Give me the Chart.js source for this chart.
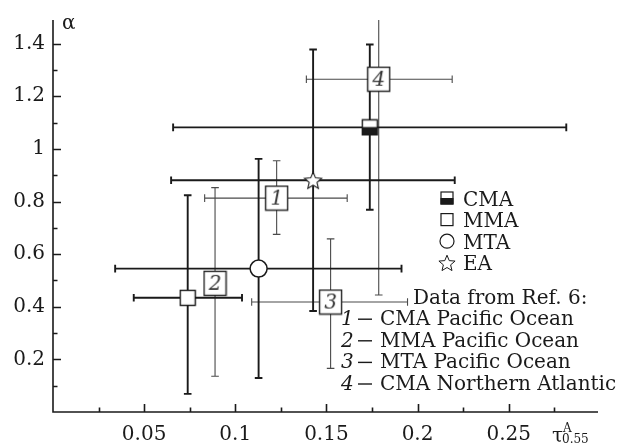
<!DOCTYPE html>
<html>
<head>
<meta charset="utf-8">
<script src="https://cdn.jsdelivr.net/npm/chart.js@4.4.1/dist/chart.umd.min.js"></script>
<style>
  html, body { margin: 0; padding: 0; background: #fff; }
  #wrap { width: 631px; height: 446px; position: relative; }
</style>
</head>
<body>
<div id="wrap"><canvas id="chart"></canvas></div>
<script>
// ---- values
const seriesNames = ["CMA", "MMA", "MTA", "EA"];
const seriesX   = [0.1738, 0.0739, 0.1128, 0.1427];
const seriesY   = [1.082, 0.434, 0.545, 0.881];
const seriesXLo = [0.0659, 0.0443, 0.0341, 0.0648];
const seriesXHi = [0.2816, 0.1037, 0.1912, 0.2204];
const seriesYLo = [0.769, 0.069, 0.129, 0.384];
const seriesYHi = [1.397, 0.824, 0.962, 1.378];

// Ref. 6 points (thin grey bars, numbered boxes)
const refLabels = ["1", "2", "3", "4"];
const refNotes  = ["CMA Pacific Ocean", "MMA Pacific Ocean", "MTA Pacific Ocean", "CMA Northern Atlantic"];
const refX   = [0.1227, 0.0889, 0.1523, 0.1787];
const refY   = [0.813, 0.489, 0.418, 1.265];
const refXLo = [0.0832, null, 0.109, 0.139];
const refXHi = [0.1614, null, 0.1945, 0.219];
const refYLo = [0.675, 0.136, 0.166, 0.445];
const refYHi = [0.955, 0.853, 0.658, 1.6];

const xTicks = [0.05, 0.1, 0.15, 0.2, 0.25];
const yTicks = [0.2, 0.4, 0.6, 0.8, 1, 1.2, 1.4];

const SERIF = "'DejaVu Serif', 'Liberation Serif', serif";
const INK = "#1a1a1a";
const FS = 20;
Chart.defaults.font.family = SERIF;
Chart.defaults.color = INK;

// ---- marker glyphs (small canvases used as point styles)
function glyph(w, h, draw) {
  const c = document.createElement("canvas");
  c.width = w; c.height = h;
  draw(c.getContext("2d"), w, h);
  return c;
}
function starPath(ctx, cx, cy, ro, ri) {
  ctx.beginPath();
  for (let i = 0; i < 10; i++) {
    const r = i % 2 ? ri : ro, a = -Math.PI / 2 + i * Math.PI / 5;
    ctx.lineTo(cx + r * Math.cos(a), cy + r * Math.sin(a));
  }
  ctx.closePath();
}
const halfSquare = s => glyph(s + 2, s + 2, (ctx) => {
  ctx.fillStyle = "#fff"; ctx.fillRect(1, 1, s, s);
  ctx.fillStyle = INK; ctx.fillRect(1, 1 + s * 0.48, s, s * 0.52);
  ctx.strokeStyle = INK; ctx.lineWidth = 1.4; ctx.strokeRect(1.5, 1.5, s - 1, s - 1);
});
const openSquare = s => glyph(s + 2, s + 2, (ctx) => {
  ctx.fillStyle = "#fff"; ctx.fillRect(1, 1, s, s);
  ctx.strokeStyle = INK; ctx.lineWidth = 1.4; ctx.strokeRect(1.5, 1.5, s - 1, s - 1);
});
const starGlyph = s => glyph(s + 2, s + 2, (ctx, w, h) => {
  starPath(ctx, w / 2, h / 2 + 0.9, s / 2, s / 4.4);
  ctx.fillStyle = "#fff"; ctx.fill();
  ctx.strokeStyle = INK; ctx.lineWidth = 1.1; ctx.stroke();
});
const numBox = t => glyph(25, 27, (ctx, w, h) => {
  ctx.fillStyle = "#fff"; ctx.fillRect(1, 1, w - 2, h - 2);
  ctx.strokeStyle = "#222"; ctx.lineWidth = 1.4; ctx.strokeRect(1.5, 1.5, w - 3, h - 3);
  ctx.fillStyle = "#333"; ctx.font = "italic 20px " + SERIF;
  ctx.textAlign = "center"; ctx.textBaseline = "middle";
  ctx.fillText(t, w / 2, h / 2 + 1);
});

const seriesStyles = [halfSquare(16), openSquare(16), "circle", starGlyph(18)];

// ---- error bars + axes + annotations
const errorBars = {
  id: "errorBars",
  beforeDatasetsDraw(chart) {
    const { ctx, chartArea: a, scales: { x, y } } = chart;
    const bar = (xs, ys, xl, xh, yl, yh, lw, col, cap) => {
      ctx.strokeStyle = col; ctx.lineWidth = lw;
      xs.forEach((_, i) => {
        const px = x.getPixelForValue(xs[i]), py = y.getPixelForValue(ys[i]);
        ctx.beginPath();
        if (xl[i] != null) {
          const l = x.getPixelForValue(xl[i]), r = x.getPixelForValue(xh[i]);
          ctx.moveTo(l, py); ctx.lineTo(r, py);
          ctx.moveTo(l, py - cap); ctx.lineTo(l, py + cap);
          ctx.moveTo(r, py - cap); ctx.lineTo(r, py + cap);
        }
        if (yl[i] != null) {
          const b = y.getPixelForValue(yl[i]), t = y.getPixelForValue(yh[i]);
          ctx.moveTo(px, b); ctx.lineTo(px, t);
          ctx.moveTo(px - cap, b); ctx.lineTo(px + cap, b);
          ctx.moveTo(px - cap, t); ctx.lineTo(px + cap, t);
        }
        ctx.stroke();
      });
    };
    ctx.save();
    ctx.beginPath(); ctx.rect(a.left, a.top, a.right - a.left, a.bottom - a.top); ctx.clip();
    bar(refX, refY, refXLo, refXHi, refYLo, refYHi, 1.1, "#4a4a4a", 3.8);
    bar(seriesX, seriesY, seriesXLo, seriesXHi, seriesYLo, seriesYHi, 1.9, INK, 3.8);
    ctx.restore();
  },
  afterDraw(chart) {
    const { ctx, chartArea: a, scales: { x, y } } = chart;
    ctx.save();
    // axes with inward ticks
    ctx.strokeStyle = INK; ctx.lineWidth = 1.6;
    ctx.beginPath();
    ctx.moveTo(a.left, a.top); ctx.lineTo(a.left, a.bottom); ctx.lineTo(a.right, a.bottom);
    for (let v = 0.025; v < x.max; v += 0.025) {
      const px = Math.round(x.getPixelForValue(v)) + 0.5;
      const major = Math.abs(v / 0.05 - Math.round(v / 0.05)) < 1e-6;
      ctx.moveTo(px, a.bottom); ctx.lineTo(px, a.bottom - (major ? 8 : 4.5));
    }
    for (let v = 0.1; v < y.max; v += 0.1) {
      const py = Math.round(y.getPixelForValue(v)) + 0.5;
      const major = Math.abs(v / 0.2 - Math.round(v / 0.2)) < 1e-6;
      ctx.moveTo(a.left, py); ctx.lineTo(a.left + (major ? 8 : 4.5), py);
    }
    ctx.stroke();

    ctx.fillStyle = INK; ctx.textBaseline = "alphabetic"; ctx.textAlign = "left";
    // axis titles
    ctx.font = FS + "px " + SERIF;
    ctx.fillText("\u03b1", 62, 29);
    ctx.fillText("\u03c4", 552, 442);
    ctx.font = "12px " + SERIF;
    ctx.fillText("A", 563, 432);
    ctx.fillText("0.55", 562, 443);

    // legend
    const lx = 447, tx = 463;
    seriesNames.forEach((n, i) => {
      const cy = 198 + i * 21.6;
      ctx.strokeStyle = INK; ctx.lineWidth = 1.2;
      if (i === 0) {
        ctx.fillStyle = INK; ctx.fillRect(lx - 6.5, cy, 13, 6.5);
        ctx.strokeRect(lx - 6, cy - 6, 12, 12);
      } else if (i === 1) {
        ctx.strokeRect(lx - 6, cy - 6, 12, 12);
      } else if (i === 2) {
        ctx.beginPath(); ctx.arc(lx, cy, 7, 0, Math.PI * 2); ctx.stroke();
      } else {
        starPath(ctx, lx, cy + 0.9, 8.5, 3.8); ctx.lineWidth = 1; ctx.stroke();
      }
      ctx.fillStyle = INK; ctx.font = FS + "px " + SERIF;
      ctx.fillText(n, tx, cy + 7.5);
    });

    // Ref. 6 notes
    ctx.font = FS + "px " + SERIF;
    ctx.fillText("Data from Ref. 6:", 413, 304);
    refNotes.forEach((n, i) => {
      const by = 325 + i * 21.6;
      ctx.font = "italic " + FS + "px " + SERIF;
      ctx.fillText(refLabels[i], 341, by);
      ctx.font = FS + "px " + SERIF;
      ctx.fillRect(358, by - 6.5, 14, 1.4);
      ctx.fillText(n, 380, by);
    });
    ctx.restore();
  }
};

new Chart(document.getElementById("chart"), {
  type: "scatter",
  data: {
    datasets: [
      ...seriesNames.map((n, i) => ({
        label: n,
        data: [{ x: seriesX[i], y: seriesY[i] }],
        pointStyle: seriesStyles[i],
        pointRadius: i === 2 ? 8.5 : 9,
        backgroundColor: "#fff",
        borderColor: INK,
        borderWidth: 1.5,
      })),
      {
        label: "Ref. 6",
        data: refX.map((v, i) => ({ x: v, y: refY[i] })),
        pointStyle: refLabels.map(numBox),
        pointRadius: 12,
      },
    ],
  },
  options: {
    responsive: true, maintainAspectRatio: false, animation: false,
    layout: { padding: { top: 12, right: 33, left: 0, bottom: 0 } },
    plugins: { legend: { display: false }, tooltip: { enabled: false } },
    scales: {
      x: {
        type: "linear", min: 0, max: 0.299,
        grid: { display: false, drawTicks: false }, border: { display: false },
        afterBuildTicks: s => { s.ticks = xTicks.map(v => ({ value: v })); },
        afterFit: s => { s.height = 34; },
        ticks: { padding: 11, maxRotation: 0, autoSkip: false, font: { size: FS }, color: INK, callback: v => String(v) },
      },
      y: {
        type: "linear", min: 0, max: 1.49,
        grid: { display: false, drawTicks: false }, border: { display: false },
        afterBuildTicks: s => { s.ticks = yTicks.map(v => ({ value: v })); },
        afterFit: s => { s.width = 53; },
        ticks: { padding: 8, autoSkip: false, font: { size: FS }, color: INK, callback: v => String(v) },
      },
    },
  },
  plugins: [errorBars],
});
</script>
</body>
</html>
